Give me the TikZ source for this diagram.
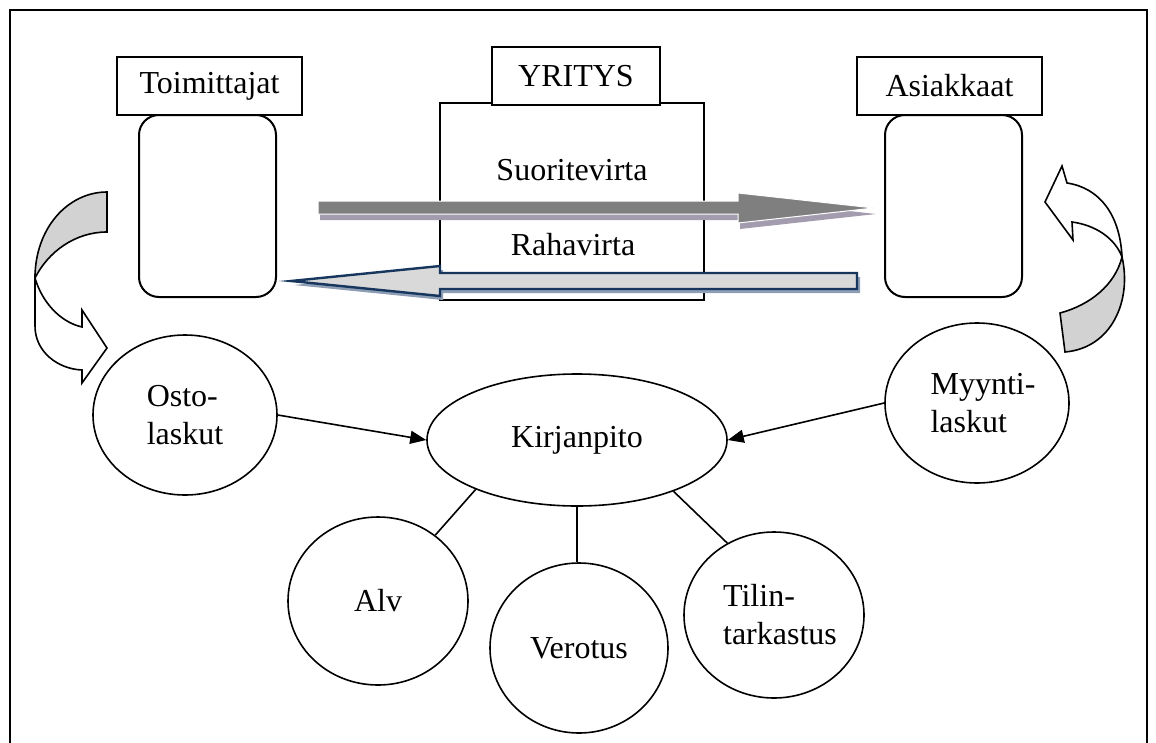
\documentclass[tikz,border=0pt]{standalone}
\usepackage{fontspec}
\setmainfont{Liberation Serif}
\usetikzlibrary{arrows.meta,shapes.geometric}
\definecolor{sgray}{HTML}{7F7F7F}
\definecolor{sshadow}{HTML}{A39CAE}
\definecolor{rfill}{HTML}{D9D9D9}
\definecolor{rline}{HTML}{17365D}
\definecolor{rshadow}{HTML}{8C9DB4}
\definecolor{cgray}{HTML}{D2D2D2}
\begin{document}
\begin{tikzpicture}[x=1pt,y=-1pt,
  every node/.style={font=\fontsize{32}{38}\selectfont, inner sep=0pt},
  lbl/.style={draw, line width=2pt, fill=white, rectangle},
  body/.style={draw, line width=2pt, rounded corners=20pt, fill=white, rectangle},
  oval/.style={draw, line width=1.6pt, ellipse, fill=white, align=left},
  conn/.style={line width=1.6pt},
  arr/.style={conn, -{Triangle[length=16pt,width=13pt]}},
  curv/.style={draw, line width=1.6pt, line join=miter},
]
\useasboundingbox (0,0) rectangle (1156,742);
% frame
\draw[line width=2pt] (10,745) -- (10,10) -- (1147,10) -- (1147,745);

% left curved arrow
\path[curv, fill=cgray] (107,192) .. controls (68,192) and (35,228) .. (35,278)
  .. controls (48,252) and (75,232) .. (107,232) -- cycle;
\path[curv, fill=white] (35,278) -- (35,326) .. controls (35,352) and (58,369) .. (82,370)
  -- (82,383) -- (107,348) -- (82,310) -- (82,327)
  .. controls (60,322) and (42,302) .. (35,278) -- cycle;

% right curved arrow
\path[curv, fill=cgray] (1060,313) .. controls (1090,305) and (1115,285) .. (1122,257)
  .. controls (1132,300) and (1112,348) .. (1065,352) -- cycle;
\path[curv, fill=white] (1122,257) .. controls (1120,215) and (1100,188) .. (1067,183)
  -- (1062,166) -- (1045,202) -- (1073,240) -- (1072,222)
  .. controls (1095,225) and (1115,238) .. (1122,257) -- cycle;

% partner boxes
\node[body, minimum width=137pt, minimum height=182pt] (toimb) at (207.5,206) {};
\node[lbl, minimum width=185pt, minimum height=58pt] (toim) at (209.5,86) {Toimittajat};
\node[body, minimum width=137pt, minimum height=182pt] (asib) at (953.5,206) {};
\node[lbl, minimum width=185pt, minimum height=58pt] (asi) at (949.5,86) {Asiakkaat};

% company
\node[lbl, minimum width=264pt, minimum height=197pt] (yrb) at (572,201.5) {};
\node[lbl, minimum width=168pt, minimum height=58pt] (yr) at (576,76) {YRITYS};
\node (suor) at (572,170) {Suoritevirta};
\node (raha) at (573,245) {Rahavirta};

% Suoritevirta arrow
\fill[sshadow, shift={(2,6)}] (318,201) -- (738,201) -- (738,193) -- (874,208) -- (738,223) -- (738,214) -- (318,214) -- cycle;
\path[fill=sgray, draw=white, line width=1pt] (318,201) -- (738,201) -- (738,193) -- (874,208) -- (738,223) -- (738,214) -- (318,214) -- cycle;

% Rahavirta arrow
\fill[rshadow, shift={(3,4)}] (857,273) -- (440,273) -- (440,266) -- (291,281) -- (440,296) -- (440,289) -- (857,289) -- cycle;
\path[fill=rfill, draw=rline, line width=2.4pt, line join=miter] (857,273) -- (440,273) -- (440,266) -- (291,281) -- (440,296) -- (440,289) -- (857,289) -- cycle;

% ovals
\node[oval, minimum width=184pt, minimum height=160pt] (osto) at (185,415) {Osto-\\laskut};
\node[oval, minimum width=300pt, minimum height=132pt] (kirj) at (577,440) {Kirjanpito};
\node[oval, minimum width=184pt, minimum height=160pt] (myy) at (977,403) {\hspace*{12pt}Myynti-\\\hspace*{12pt}laskut};
\node[oval, minimum width=180pt, minimum height=168pt] (alv) at (378,601) {Alv};
\node[oval, minimum width=178pt, minimum height=170pt] (vero) at (579,648) {Verotus};
\node[oval, minimum width=180pt, minimum height=166pt] (tili) at (774,615) {\hspace*{12pt}Tilin-\\\hspace*{12pt}tarkastus};

% connectors
\draw[arr] (osto.east) -- (kirj.west);
\draw[arr] (myy.west) -- (kirj.east);
\draw[conn] (kirj.206) -- (alv.49);
\draw[conn] (kirj.south) -- (kirj.south |- vero.north);
\draw[conn] (kirj.332) -- (tili.123);
\end{tikzpicture}
\end{document}
